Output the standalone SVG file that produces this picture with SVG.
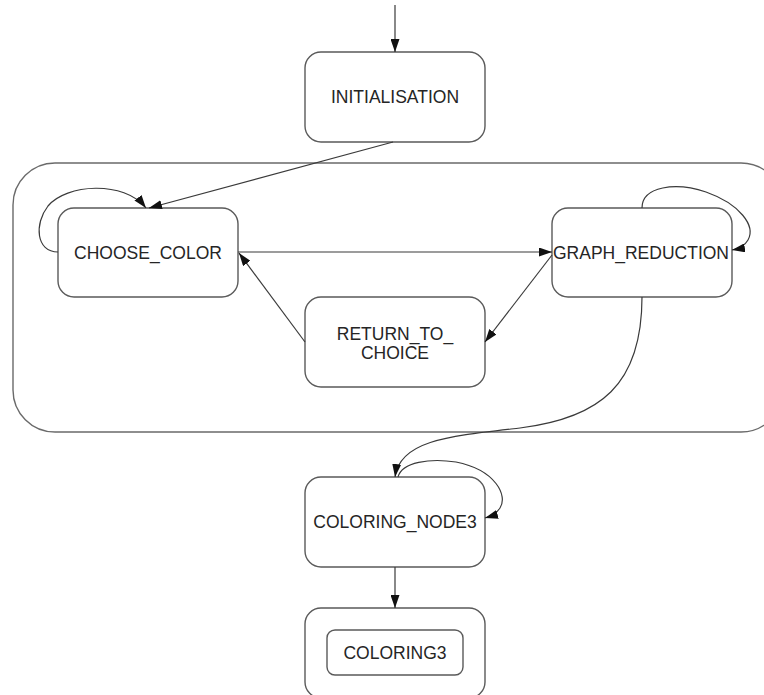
<svg xmlns="http://www.w3.org/2000/svg" width="764" height="695" viewBox="0 0 764 695">
  <defs>
    <style>
      .box { fill: #ffffff; stroke: #5a5a5a; stroke-width: 1.4; }
      .cluster { fill: none; stroke: #6a6a6a; stroke-width: 1.4; }
      .edge { fill: none; stroke: #3a3a3a; stroke-width: 1.2; }
      .label { font-family: "Liberation Sans", Arial, sans-serif; font-size: 17.5px; fill: #252525; text-anchor: middle; }
    </style>
    <marker id="arrow" viewBox="0 0 13 9" refX="13" refY="4.5" markerWidth="13" markerHeight="9" markerUnits="userSpaceOnUse" orient="auto">
      <path d="M0,0 L13,4.5 L0,9 z" fill="#111111"/>
    </marker>
  </defs>

  <rect width="764" height="695" fill="#ffffff"/>

  <!-- composite state enclosing the colouring loop -->
  <rect id="cluster-coloring" class="cluster" x="13" y="163" width="770" height="269" rx="42" ry="42"/>

  <g id="initialisation">
    <rect class="box" x="305" y="52" width="180" height="90" rx="16" ry="16"/>
    <text class="label" x="395" y="103">INITIALISATION</text>
  </g>

  <g id="choose-color">
    <rect class="box" x="58" y="208" width="180" height="89" rx="16" ry="16"/>
    <text class="label" x="148" y="259">CHOOSE_COLOR</text>
  </g>

  <g id="graph-reduction">
    <rect class="box" x="552" y="208" width="180" height="89" rx="16" ry="16"/>
    <text class="label" x="641" y="259">GRAPH_REDUCTION</text>
  </g>

  <g id="return-to-choice">
    <rect class="box" x="305" y="297" width="180" height="90" rx="16" ry="16"/>
    <text class="label" x="395" y="340">RETURN_TO_</text>
    <text class="label" x="395" y="359">CHOICE</text>
  </g>

  <g id="coloring-node3">
    <rect class="box" x="305" y="477" width="180" height="90" rx="16" ry="16"/>
    <text class="label" x="395" y="528">COLORING_NODE3</text>
  </g>

  <g id="coloring3">
    <rect class="box" x="305" y="608" width="180" height="90" rx="16" ry="16"/>
    <rect class="box" x="327" y="630" width="136" height="45" rx="8" ry="8"/>
    <text class="label" x="395" y="659">COLORING3</text>
  </g>

  <g id="connectors">
    <!-- initial transition -->
    <path class="edge" marker-end="url(#arrow)" d="M395,5 L395,52"/>
    <!-- INITIALISATION to CHOOSE_COLOR -->
    <path class="edge" marker-end="url(#arrow)" d="M393,142 L149,208"/>
    <!-- CHOOSE_COLOR self loop -->
    <path class="edge" marker-end="url(#arrow)" d="M58,252 C36,252 34,224 48,206 C66,184 124,180 146,208"/>
    <!-- CHOOSE_COLOR to GRAPH_REDUCTION -->
    <path class="edge" marker-end="url(#arrow)" d="M238,252 L552,252"/>
    <!-- GRAPH_REDUCTION self loop -->
    <path class="edge" marker-end="url(#arrow)" d="M642,208 C642,186 676,182 706,192 C740,204 756,226 748,240 C744,247 738,249 732,250"/>
    <!-- GRAPH_REDUCTION to RETURN_TO_CHOICE -->
    <path class="edge" marker-end="url(#arrow)" d="M552,255 L485,342"/>
    <!-- RETURN_TO_CHOICE to CHOOSE_COLOR -->
    <path class="edge" marker-end="url(#arrow)" d="M305,342 L239,253"/>
    <!-- GRAPH_REDUCTION to COLORING_NODE3 -->
    <path class="edge" marker-end="url(#arrow)" d="M642,297 C642,385 600,418 520,428 C450,436 400,440 395,477"/>
    <!-- COLORING_NODE3 self loop -->
    <path class="edge" marker-end="url(#arrow)" d="M398,477 C402,462 430,458 456,462 C496,470 508,496 500,508 C496,514 492,516 485,518"/>
    <!-- COLORING_NODE3 to COLORING3 -->
    <path class="edge" marker-end="url(#arrow)" d="M395,567 L395,608"/>
  </g>
</svg>
